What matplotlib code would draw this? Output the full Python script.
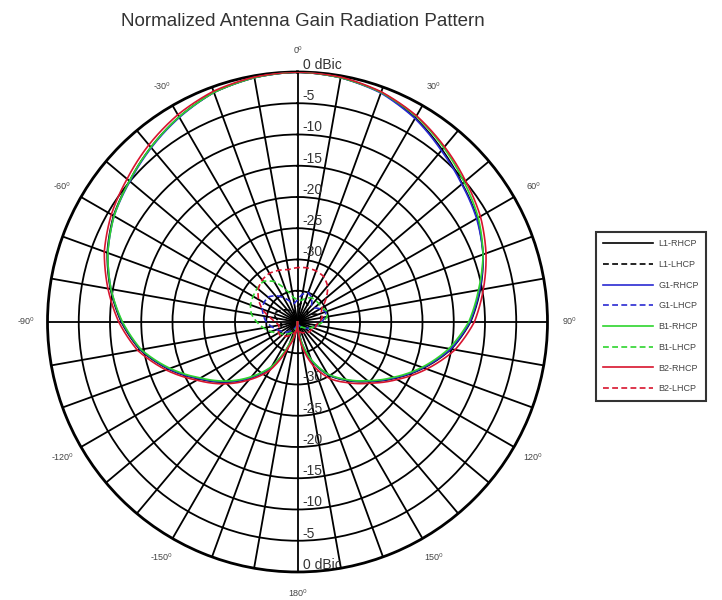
import numpy as np
import matplotlib
matplotlib.use("Agg")
import matplotlib.pyplot as plt
from matplotlib.lines import Line2D

plt.rcParams['font.family'] = ['Liberation Sans', 'DejaVu Sans']

# Azimuth samples (degrees, clockwise from boresight)
angles = list(range(-180, 181, 10))

# Normalized gain (dBic) per receiver band and polarization
l1_rhcp = [-40.0, -38.5, -36.0, -31.5, -28.3, -25.0, -21.8, -18.0, -14.4, -11.8,
           -9.6, -7.6, -6.0, -4.9, -3.5, -2.1, -0.9, -0.3, 0.0,
           -0.3, -0.9, -2.3, -4.0, -5.6, -6.8, -8.4, -10.3, -12.3,
           -15.0, -18.5, -22.0, -25.2, -27.8, -30.2, -33.4, -37.0, -40.0]
l1_lhcp = [-39.5, -39.0, -38.5, -38.0, -37.5, -37.0, -36.8, -37.0, -37.5, -37.2,
           -36.5, -36.0, -36.5, -37.0, -37.5, -38.0, -38.5, -38.0, -37.5,
           -37.0, -36.5, -36.8, -37.5, -38.0, -37.5, -36.5, -36.0, -36.5,
           -37.0, -37.5, -38.0, -38.5, -38.5, -39.0, -39.2, -39.5, -39.5]
g1_rhcp = [-40.0, -38.6, -36.2, -31.6, -28.4, -25.1, -21.9, -18.1, -14.5, -11.9,
           -9.7, -7.7, -6.1, -5.0, -3.6, -2.2, -0.9, -0.3, 0.0,
           -0.3, -1.0, -2.4, -4.2, -5.7, -6.9, -8.4, -10.4, -12.4,
           -15.1, -18.6, -22.1, -25.3, -27.9, -30.3, -33.5, -37.2, -40.0]
g1_lhcp = [-39.5, -39.5, -39.0, -38.5, -38.0, -37.5, -37.0, -36.5, -35.8, -35.0,
           -34.5, -34.0, -33.8, -33.8, -34.5, -35.5, -36.5, -37.0, -36.5,
           -35.5, -35.0, -35.5, -36.5, -36.5, -35.8, -35.2, -35.5, -36.2,
           -36.8, -37.5, -38.0, -38.5, -39.0, -39.2, -39.5, -39.5, -39.5]
b1_rhcp = [-40.0, -38.8, -36.4, -31.8, -28.6, -25.3, -22.1, -18.3, -14.6, -12.0,
           -9.7, -7.7, -6.1, -4.9, -3.5, -2.1, -0.9, -0.3, 0.0,
           -0.3, -0.9, -2.0, -3.6, -5.2, -6.6, -8.4, -10.6, -12.6,
           -15.4, -18.8, -22.3, -25.4, -28.0, -30.4, -33.6, -37.2, -40.0]
b1_lhcp = [-39.5, -39.0, -38.5, -38.0, -37.5, -37.0, -36.5, -35.5, -34.5, -33.5,
           -32.5, -32.0, -31.8, -31.6, -31.5, -32.5, -34.5, -36.0, -36.5,
           -36.5, -36.0, -35.5, -35.5, -35.5, -35.5, -35.0, -35.2, -36.0,
           -36.8, -37.5, -38.0, -38.5, -39.0, -39.0, -39.5, -39.5, -39.5]
b2_rhcp = [-40.0, -38.2, -35.6, -31.0, -27.9, -24.6, -21.4, -17.6, -14.0, -11.4,
           -9.2, -7.1, -5.6, -4.4, -3.0, -1.7, -0.7, -0.2, 0.0,
           -0.2, -0.8, -1.9, -3.4, -4.9, -6.2, -7.9, -9.8, -11.7,
           -14.4, -18.0, -21.6, -24.8, -27.3, -29.5, -32.5, -36.2, -40.0]
b2_lhcp = [-38.5, -38.5, -38.0, -37.5, -37.0, -36.5, -36.5, -36.8, -37.0, -36.5,
           -35.5, -34.0, -32.8, -31.8, -31.2, -31.0, -31.2, -31.5, -31.3,
           -31.2, -31.3, -31.6, -32.5, -34.0, -35.5, -36.0, -36.0, -36.5,
           -37.0, -37.0, -37.5, -37.5, -38.0, -38.0, -38.2, -38.5, -38.5]

series_names = ['L1-RHCP', 'L1-LHCP', 'G1-RHCP', 'G1-LHCP',
                'B1-RHCP', 'B1-LHCP', 'B2-RHCP', 'B2-LHCP']
series_values = [l1_rhcp, l1_lhcp, g1_rhcp, g1_lhcp,
                 b1_rhcp, b1_lhcp, b2_rhcp, b2_lhcp]
series_colors = ['#000000', '#000000', '#2a2ad2', '#2a2ad2',
                 '#2ed42e', '#2ed42e', '#d8142e', '#d8142e']
series_styles = ['-', '--', '-', '--', '-', '--', '-', '--']

ring_levels = [-35, -30, -25, -20, -15, -10, -5]
ring_labels = ['-30', '-25', '-20', '-15', '-10', '-5', '0 dBic']
ring_label_levels = [-30, -25, -20, -15, -10, -5, 0]
angle_label_values = [0, 30, 60, 90, 120, 150, 180, -150, -120, -90, -60, -30]

fig = plt.figure(figsize=(7.22, 6.0), dpi=100)
ax = fig.add_axes([0.0658, 0.0467, 0.6925, 0.8333], projection='polar')
ax.set_theta_zero_location('N')
ax.set_theta_direction(-1)
ax.set_rlim(-40, 0)

ax.set_rgrids(ring_levels, labels=[''] * len(ring_levels))
ax.set_thetagrids(np.arange(0, 360, 10), labels=[''] * 36)
ax.grid(True, color='black', linewidth=1.3, linestyle='-')
ax.set_axisbelow(True)
ax.spines['polar'].set_linewidth(2.0)
ax.tick_params(length=0)

theta = np.deg2rad(angles)
for vals, col, ls in zip(series_values, series_colors, series_styles):
    ln, = ax.plot(theta, vals, color=col, linestyle=ls, linewidth=1.2,
                  dashes=(3.5, 2) if ls == '--' else (None, None), zorder=3)
    # let the polar transform bend each segment along the angular sweep
    ln.get_path()._interpolation_steps = 12

# angle labels around the outer circle
for a in angle_label_values:
    ax.text(np.deg2rad(a), 3.5, f'{a}\u2070', ha='center', va='center',
            fontsize=6.5, color='#444444', clip_on=False,
            family=['Liberation Sans', 'DejaVu Sans'])

# radial scale labels along the 0 and 180 degree spokes
for lvl, txt in zip(ring_label_levels, ring_labels):
    for a in (0, 180):
        ax.annotate(txt, xy=(np.deg2rad(a), lvl), xytext=(5, 7),
                    textcoords='offset pixels', ha='left', va='center',
                    fontsize=10, color='#333333', zorder=2,
                    annotation_clip=False)

fig.text(0.42, 0.965, 'Normalized Antenna Gain Radiation Pattern',
         ha='center', va='center', fontsize=13.5, color='#333333')

handles = [Line2D([0], [0], color=c, linestyle=s, linewidth=1.2,
                  dashes=(3.5, 2) if s == '--' else (None, None))
           for c, s in zip(series_colors, series_styles)]
leg = fig.legend(handles, series_names, loc='upper left',
                 bbox_to_anchor=(0.8255, 0.6133), borderaxespad=0,
                 frameon=True, fancybox=False,
                 fontsize=6.5, handlelength=5.5, handletextpad=0.6,
                 labelspacing=1.3, borderpad=0.8, labelcolor='#444444')
leg.get_frame().set_edgecolor('black')
leg.get_frame().set_linewidth(1.5)

fig.savefig('out.png', dpi=100, facecolor='white')
